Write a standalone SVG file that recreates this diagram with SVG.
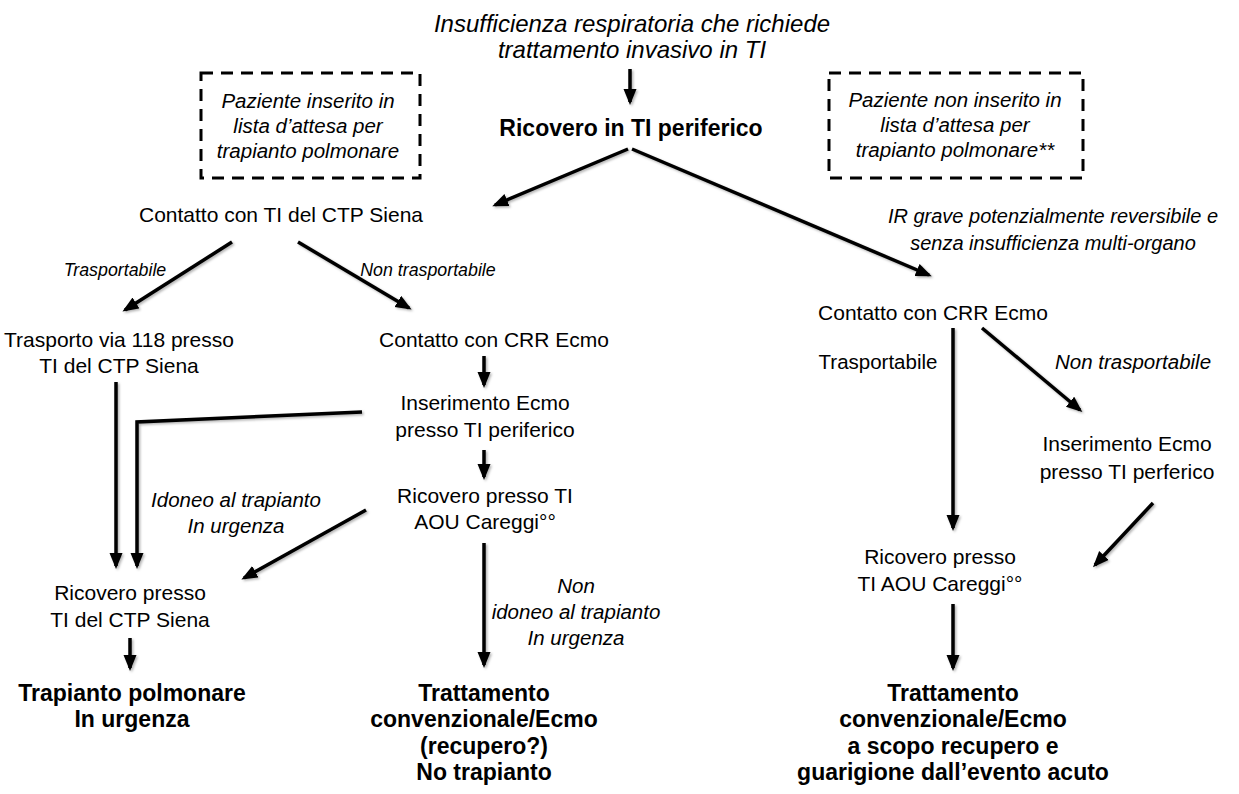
<svg xmlns="http://www.w3.org/2000/svg" width="1239" height="794" viewBox="0 0 1239 794">
<defs>
<marker id="ah" markerUnits="userSpaceOnUse" markerWidth="18" markerHeight="14" refX="13" refY="6.5" orient="auto">
<path d="M0,0 L16,6.5 L0,13 z" fill="#000"/>
</marker>
<filter id="sh" x="-20%" y="-20%" width="140%" height="140%">
<feDropShadow dx="1.5" dy="1.5" stdDeviation="1.2" flood-color="#000" flood-opacity="0.3"/>
</filter>
</defs>
<style>
text{font-family:"Liberation Sans",Arial,sans-serif;fill:#000;text-anchor:middle}
.r{font-size:21px}
.b{font-size:23px;font-weight:bold}
.t{font-size:24px;font-style:italic}
.bx{font-size:20.5px;font-style:italic}
.l{font-size:17.8px;font-style:italic}
.l2{font-size:20.5px;font-style:italic}
.ir{font-size:20px;font-style:italic}
.lr{font-size:20.5px}
.c{stroke:#000;stroke-width:3.5;fill:none;marker-end:url(#ah)}
.d{stroke:#000;stroke-width:3;fill:none;stroke-dasharray:12 8}
</style>
<rect width="1239" height="794" fill="#fff"/>

<g id="connectors" filter="url(#sh)">
<line class="c" x1="630" y1="69" x2="630" y2="102"/>
<line class="c" x1="628" y1="149" x2="495" y2="205"/>
<line class="c" x1="632" y1="149" x2="929" y2="275"/>
<line class="c" x1="232" y1="242" x2="125" y2="310"/>
<line class="c" x1="298" y1="242" x2="409" y2="308"/>
<line class="c" x1="484" y1="356" x2="484" y2="385"/>
<line class="c" x1="484" y1="450" x2="484" y2="477"/>
<line class="c" x1="484" y1="543" x2="484" y2="665"/>
<line class="c" x1="116" y1="382" x2="116" y2="566"/>
<polyline class="c" points="362,412 137,422 137,566"/>
<line class="c" x1="366" y1="510" x2="244" y2="578"/>
<line class="c" x1="130" y1="638" x2="130" y2="668"/>
<line class="c" x1="953" y1="328" x2="953" y2="528"/>
<line class="c" x1="982" y1="328" x2="1080" y2="410"/>
<line class="c" x1="1153" y1="503" x2="1095" y2="565"/>
<line class="c" x1="953" y1="604" x2="953" y2="668"/>
</g>

<g id="n-title">
<text class="t" x="632" y="32">Insufficienza respiratoria che richiede</text>
<text class="t" x="632" y="58">trattamento invasivo in TI</text>
</g>
<g id="n-ricovero-periferico">
<text class="b" x="631" y="136">Ricovero in TI periferico</text>
</g>
<g id="n-box-left">
<rect class="d" x="201" y="73" width="219" height="105"/>
<text class="bx" x="308" y="108">Paziente inserito in</text>
<text class="bx" x="308" y="133">lista d’attesa per</text>
<text class="bx" x="308" y="158">trapianto polmonare</text>
</g>
<g id="n-box-right">
<rect class="d" x="829" y="73" width="254" height="105"/>
<text class="bx" x="955" y="107">Paziente non inserito in</text>
<text class="bx" x="955" y="132">lista d’attesa per</text>
<text class="bx" x="955" y="157">trapianto polmonare**</text>
</g>
<g id="n-contatto-siena">
<text class="r" x="281" y="222">Contatto con TI del CTP Siena</text>
</g>
<g id="l-ir">
<text class="ir" x="1053" y="223">IR grave potenzialmente reversibile e</text>
<text class="ir" x="1053" y="250">senza insufficienza multi-organo</text>
</g>
<g id="l-trasp1"><text class="l" x="115" y="276">Trasportabile</text></g>
<g id="l-nontrasp1"><text class="l" x="428" y="276">Non trasportabile</text></g>
<g id="n-trasporto118">
<text class="r" x="119" y="347">Trasporto via 118 presso</text>
<text class="r" x="119" y="373">TI del CTP Siena</text>
</g>
<g id="n-crr-left">
<text class="r" x="494" y="347">Contatto con CRR Ecmo</text>
</g>
<g id="n-inserimento-left">
<text class="r" x="485" y="410">Inserimento Ecmo</text>
<text class="r" x="485" y="437">presso TI periferico</text>
</g>
<g id="n-careggi-left">
<text class="r" x="485" y="503">Ricovero presso TI</text>
<text class="r" x="485" y="529">AOU Careggi°°</text>
</g>
<g id="l-idoneo">
<text class="l2" x="236" y="507">Idoneo al trapianto</text>
<text class="l2" x="236" y="533">In urgenza</text>
</g>
<g id="l-nonidoneo">
<text class="l2" x="576" y="593">Non</text>
<text class="l2" x="576" y="619">idoneo al trapianto</text>
<text class="l2" x="576" y="645">In urgenza</text>
</g>
<g id="n-ricovero-siena">
<text class="r" x="130" y="600">Ricovero presso</text>
<text class="r" x="130" y="627">TI del CTP Siena</text>
</g>
<g id="n-trapianto">
<text class="b" x="132" y="701">Trapianto polmonare</text>
<text class="b" x="132" y="727">In urgenza</text>
</g>
<g id="n-trattamento-left">
<text class="b" x="484" y="701">Trattamento</text>
<text class="b" x="484" y="727">convenzionale/Ecmo</text>
<text class="b" x="484" y="754">(recupero?)</text>
<text class="b" x="484" y="780">No trapianto</text>
</g>
<g id="n-crr-right">
<text class="r" x="933" y="320">Contatto con CRR Ecmo</text>
</g>
<g id="l-trasp2"><text class="lr" x="878" y="369">Trasportabile</text></g>
<g id="l-nontrasp2"><text class="l2" x="1133" y="369">Non trasportabile</text></g>
<g id="n-inserimento-right">
<text class="r" x="1127" y="451">Inserimento Ecmo</text>
<text class="r" x="1127" y="479">presso TI perferico</text>
</g>
<g id="n-careggi-right">
<text class="r" x="940" y="564">Ricovero presso</text>
<text class="r" x="940" y="591">TI AOU Careggi°°</text>
</g>
<g id="n-trattamento-right">
<text class="b" x="953" y="701">Trattamento</text>
<text class="b" x="953" y="727">convenzionale/Ecmo</text>
<text class="b" x="953" y="754">a scopo recupero e</text>
<text class="b" x="953" y="780">guarigione dall’evento acuto</text>
</g>
</svg>
